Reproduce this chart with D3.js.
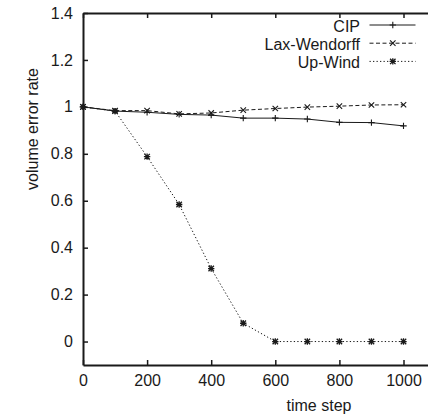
<!DOCTYPE html>
<html>
<head>
<meta charset="utf-8">
<script src="https://cdn.jsdelivr.net/npm/d3@7"></script>
<style>
  body { margin: 0; background: #fff; }
  svg text { font-family: "Liberation Sans", Arial, Helvetica, sans-serif; fill: #1a1a1a; }
</style>
</head>
<body>
<svg id="chart"></svg>
<script>
// data
const steps = [0, 100, 200, 300, 400, 500, 600, 700, 800, 900, 1000];
const cipValues = [1.0, 0.982, 0.977, 0.968, 0.965, 0.952, 0.952, 0.948, 0.934, 0.933, 0.919];
const laxValues = [1.0, 0.984, 0.984, 0.970, 0.974, 0.986, 0.993, 0.999, 1.003, 1.008, 1.009];
const upwindValues = [1.0, 0.982, 0.788, 0.584, 0.311, 0.078, 0, 0, 0, 0, 0];
const xTicks = [0, 200, 400, 600, 800, 1000];
const yTicks = [0, 0.2, 0.4, 0.6, 0.8, 1, 1.2, 1.4];

const series = [
  { name: "CIP", values: cipValues, dash: null, marker: "plus" },
  { name: "Lax-Wendorff", values: laxValues, dash: "4,2.5", marker: "cross" },
  { name: "Up-Wind", values: upwindValues, dash: "1.3,2.2", marker: "star" }
];

const W = 428, H = 418;
const margin = { left: 83, top: 13, bottom: 53 };
const ink = "#1a1a1a";
const fontSize = "16px";

const svg = d3.select("#chart").attr("width", W).attr("height", H);

// plot continues past the right edge of the picture
const x = d3.scaleLinear().domain([0, 1100]).range([margin.left, margin.left + 1100 * 0.3205]);
const y = d3.scaleLinear().domain([-0.1, 1.4]).range([H - margin.bottom, margin.top]);

// axes, ticks pointing inward
const fmt = d => d3.format("~g")(d);

const xAxisG = svg.append("g")
  .attr("transform", `translate(0,${y(-0.1)})`)
  .call(d3.axisBottom(x).tickValues(xTicks).tickSize(-5).tickSizeOuter(0).tickPadding(10).tickFormat(fmt));

const topAxisG = svg.append("g")
  .attr("transform", `translate(0,${y(1.4)})`)
  .call(d3.axisTop(x).tickValues(xTicks).tickSize(-5).tickSizeOuter(0).tickFormat(""));

const yAxisG = svg.append("g")
  .attr("transform", `translate(${x(0)},0)`)
  .call(d3.axisLeft(y).tickValues(yTicks).tickSize(-5).tickSizeOuter(0).tickPadding(10).tickFormat(fmt));

[xAxisG, topAxisG, yAxisG].forEach(g => {
  g.select(".domain").attr("stroke", ink).attr("stroke-width", 2);
  g.selectAll(".tick line").attr("stroke", ink).attr("stroke-width", 1.5);
  g.selectAll(".tick text").attr("font-size", fontSize).attr("fill", ink)
    .style("font-family", "'Liberation Sans', Arial, Helvetica, sans-serif");
});

// axis titles
svg.append("text")
  .attr("x", 319).attr("y", 410.5)
  .attr("text-anchor", "middle")
  .attr("font-size", fontSize)
  .text("time step");

svg.append("text")
  .attr("transform", "rotate(-90)")
  .attr("x", -129).attr("y", 38)
  .attr("text-anchor", "middle")
  .attr("font-size", fontSize)
  .text("volume error rate");

// markers
function drawMarker(g, kind, cx, cy) {
  const s = 3.2;
  let p = "";
  if (kind === "plus" || kind === "star") {
    p += `M${cx - s},${cy}L${cx + s},${cy}M${cx},${cy - s}L${cx},${cy + s}`;
  }
  if (kind === "cross" || kind === "star") {
    const d = s * 0.85;
    p += `M${cx - d},${cy - d}L${cx + d},${cy + d}M${cx - d},${cy + d}L${cx + d},${cy - d}`;
  }
  g.append("path").attr("d", p).attr("stroke", ink)
    .attr("stroke-width", kind === "star" ? 1.3 : 1.1).attr("fill", "none");
}

const line = d3.line().x(d => x(d.step)).y(d => y(d.v));

const plot = svg.append("g");
series.forEach(s => {
  const pts = steps.map((step, i) => ({ step: step, v: s.values[i] }));
  plot.append("path")
    .datum(pts)
    .attr("d", line)
    .attr("fill", "none")
    .attr("stroke", ink)
    .attr("stroke-width", 1)
    .attr("stroke-dasharray", s.dash);
  const mg = plot.append("g");
  pts.forEach(p => drawMarker(mg, s.marker, x(p.step), y(p.v)));
});

// legend
const legend = svg.append("g");
series.forEach((s, i) => {
  const ly = 25 + i * 18.2;
  legend.append("text")
    .attr("x", 360).attr("y", ly + 7)
    .attr("text-anchor", "end")
    .attr("font-size", fontSize)
    .text(s.name);
  legend.append("line")
    .attr("x1", 369.5).attr("x2", 415.5)
    .attr("y1", ly).attr("y2", ly)
    .attr("stroke", ink).attr("stroke-width", 1)
    .attr("stroke-dasharray", s.dash);
  drawMarker(legend, s.marker, 392.8, ly);
});
</script>
</body>
</html>
